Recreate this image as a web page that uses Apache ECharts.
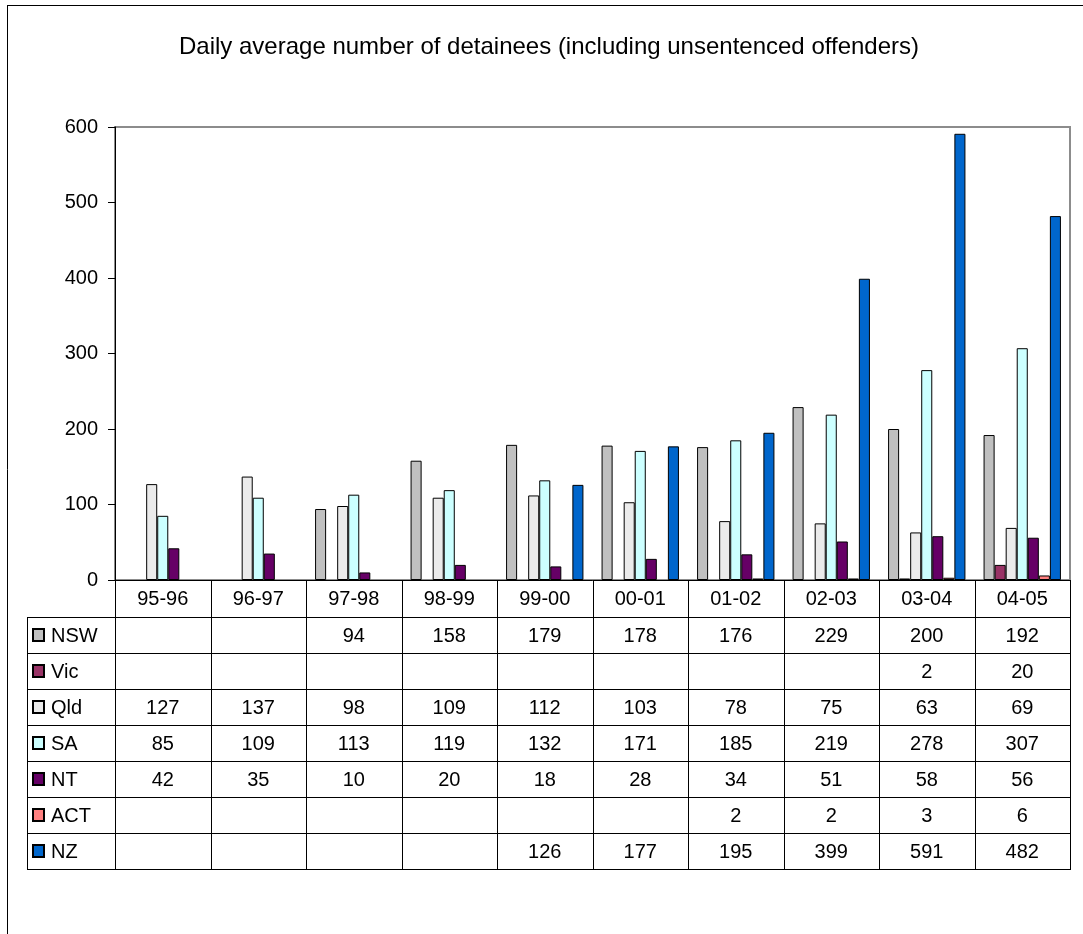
<!DOCTYPE html>
<html><head><meta charset="utf-8">
<script src="https://cdn.jsdelivr.net/npm/echarts@6/dist/echarts.min.js"></script>
<style>html,body{margin:0;padding:0;background:#fff}#c{width:1083px;height:934px}</style>
</head><body><div id="c"></div>
<script>
// ---- data ----
const categories = ['95-96','96-97','97-98','98-99','99-00','00-01','01-02','02-03','03-04','04-05'];
const seriesNames = ['NSW','Vic','Qld','SA','NT','ACT','NZ'];
const nsw = [null,null,94,158,179,178,176,229,200,192];
const vic = [null,null,null,null,null,null,null,null,2,20];
const qld = [127,137,98,109,112,103,78,75,63,69];
const sa  = [85,109,113,119,132,171,185,219,278,307];
const nt  = [42,35,10,20,18,28,34,51,58,56];
const act = [null,null,null,null,null,null,2,2,3,6];
const nz  = [null,null,null,null,126,177,195,399,591,482];
const yMin = 0, yMax = 600, yStep = 100;
const titleText = 'Daily average number of detainees (including unsentenced offenders)';

// ---- style ----
const seriesValues = [nsw, vic, qld, sa, nt, act, nz];
const seriesColors = ['#c0c0c0','#993366','#ebebeb','#ccffff','#660066','#ff8080','#0066cc'];
const FONT = "'Liberation Sans', Arial, sans-serif";
const FS = 20;
const gridLeft = 115, gridTop = 127, gridRightX = 1070, axisY = 580;
const tableLeft = 27, rowH = 36;

const chart = echarts.init(document.getElementById('c'), null, {renderer:'canvas'});

const baseOption = {
  animation: false,
  backgroundColor: '#fff',
  grid: {
    left: gridLeft, top: gridTop, right: 1083 - gridRightX, bottom: 934 - axisY,
    show: true, borderColor: '#8c8c8c', borderWidth: 2, backgroundColor: 'transparent'
  },
  xAxis: {
    type: 'category', data: categories,
    axisLine: {show: true, lineStyle: {color: '#000', width: 1}},
    axisTick: {show: false},
    axisLabel: {color: '#000', fontSize: FS, fontFamily: FONT, margin: 9, interval: 0},
    splitLine: {show: false}
  },
  yAxis: {
    type: 'value', min: yMin, max: yMax, interval: yStep,
    axisLine: {show: true, lineStyle: {color: '#000', width: 1}},
    axisTick: {show: true, length: 7, lineStyle: {color: '#000'}},
    axisLabel: {color: '#000', fontSize: FS, fontFamily: FONT, margin: 17},
    splitLine: {show: false}
  },
  series: seriesNames.map((n, i) => ({
    name: n, type: 'bar', data: seriesValues[i],
    barGap: '0%', barCategoryGap: '19%',
    itemStyle: {color: seriesColors[i], borderColor: '#000', borderWidth: 1}
  }))
};
chart.setOption(baseOption);

// ---- data table built from the arrays ----
const centers = categories.map((c, i) => chart.convertToPixel({xAxisIndex: 0}, i));
const step = (centers[centers.length - 1] - centers[0]) / (categories.length - 1);
const colEdges = centers.map(c => c - step / 2).concat([centers[centers.length - 1] + step / 2]);
const tableTop = axisY + rowH + 1;
const tableBottom = tableTop + rowH * seriesNames.length;
const lineStyle = {stroke: '#000', lineWidth: 1};
const els = [];
function ln(x1, y1, x2, y2) {
  els.push({type: 'line', shape: {x1, y1, x2, y2}, style: lineStyle, silent: true});
}
colEdges.forEach(x => ln(Math.round(x) + 0.5, axisY, Math.round(x) + 0.5, tableBottom));
for (let r = 0; r <= seriesNames.length; r++) {
  const y = tableTop + r * rowH + 0.5;
  ln(tableLeft, y, Math.round(colEdges[colEdges.length - 1]) + 1, y);
}
ln(tableLeft + 0.5, tableTop, tableLeft + 0.5, tableBottom);
seriesNames.forEach((n, r) => {
  const cy = tableTop + r * rowH + rowH / 2;
  els.push({type: 'rect', shape: {x: 33, y: Math.round(cy) - 6, width: 11, height: 12},
    style: {fill: seriesColors[r], stroke: '#000', lineWidth: 2}, silent: true});
  els.push({type: 'text', x: 51, y: cy + 1,
    style: {text: n, fill: '#000', font: FS + 'px ' + FONT, textAlign: 'left', textVerticalAlign: 'middle'}, silent: true});
  seriesValues[r].forEach((v, i) => {
    if (v === null) return;
    els.push({type: 'text', x: centers[i], y: cy + 1,
      style: {text: String(v), fill: '#000', font: FS + 'px ' + FONT, textAlign: 'center', textVerticalAlign: 'middle'}, silent: true});
  });
});
// title
els.push({type: 'text', x: 549, y: 47,
  style: {text: titleText, fill: '#000', font: '24px ' + FONT, textAlign: 'center', textVerticalAlign: 'middle'}, silent: true});
// outer chart frame
ln(7.5, 5, 7.5, 934);
ln(7, 5.5, 1083, 5.5);

chart.setOption({graphic: {elements: els}});
</script>
</body></html>
